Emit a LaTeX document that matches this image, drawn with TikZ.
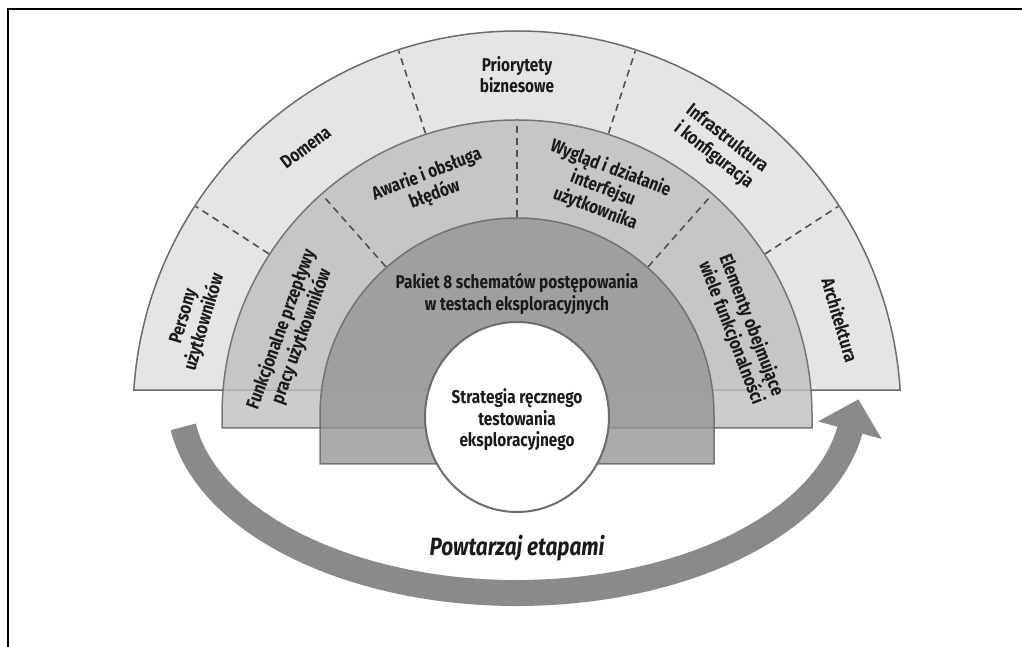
\documentclass[tikz,border=0pt]{standalone}
\usepackage{fontspec}
\setmainfont{Fira Sans}[FakeStretch=0.83]
\usetikzlibrary{calc}
\definecolor{bandA}{HTML}{E5E5E5}
\definecolor{bandB}{HTML}{BFBFBF}
\definecolor{bandC}{HTML}{969696}
\definecolor{archline}{HTML}{6C6C6C}
\definecolor{sepcol}{HTML}{505050}
\definecolor{arrowcol}{HTML}{8A8A8A}
\definecolor{txt}{HTML}{1A1A1A}
\newcommand{\labfont}{\bfseries\fontsize{18.5}{21.5}\selectfont}
\tikzset{
  archA/.style={draw=archline, line width=1.5pt, fill=bandA},
  archB/.style={draw=archline, line width=1.5pt, fill=bandB, fill opacity=0.8, draw opacity=0.9},
  archC/.style={draw=archline, line width=1.5pt, fill=bandC, fill opacity=0.8, draw opacity=0.9},
  sepline/.style={draw=sepcol, dash pattern=on 7pt off 5pt, line width=1.6pt},
  lab/.style={font=\labfont, align=center, text=txt, inner sep=0pt},
  frameline/.style={draw=black, line width=2.5pt},
}
\begin{document}
\begin{tikzpicture}[x=1pt,y=1pt]
\useasboundingbox (0,0) rectangle (1022,647);
% frame
\coordinate (fTR) at (1022,638);
\coordinate (fTL) at (8,638);
\coordinate (fBL) at (8,0);
\draw[frameline] (fTR) -- (fTL) -- (fBL);
\coordinate (C) at (517,232);
% outer band
\path[archA] ($(C)+(3.73:384)$) arc[start angle=3.73, end angle=176.27, radius=384] -- cycle;
% middle band
\path[archB] (812,219) -- (812,232) arc[start angle=0, end angle=180, radius=295] -- (222,219) -- cycle;
% inner band
\path[archC] (714,183) -- (714,232) arc[start angle=0, end angle=180, radius=197] -- (320,183) -- cycle;
% separators outer
\foreach \a in {147,108,72,33}{
  \draw[sepline] ($(C)+(\a:296)$) -- ($(C)+(\a:383)$);
}
% separators middle
\foreach \a in {131.5,90,48.5}{
  \draw[sepline] ($(C)+(\a:198)$) -- ($(C)+(\a:294)$);
}
% core ellipse
\draw[draw=archline, line width=2pt, fill=white] (517,230) ellipse [x radius=92, y radius=95];
\node[lab] (core) at (517,227) {Strategia ręcznego\\testowania\\eksploracyjnego};
% labels outer
\node[lab, rotate=73.5] (persony) at ($(C)+(163.5:336)$) {Persony\\użytkowników};
\node[lab, rotate=37] (domena) at ($(C)+(128.3:341)$) {Domena};
\node[lab] (prio) at (517,572.5) {Priorytety\\biznesowe};
\node[lab, rotate=-38] (infra) at ($(C)+(52.8:336)$) {Infrastruktura\\i konfiguracja};
\node[lab, rotate=-73.6] (arch) at ($(C)+(16.4:337)$) {Architektura};
% labels middle
\node[lab, rotate=70] (funk) at ($(C)+(160:240)$) {Funkcjonalne przepływy\\pracy użytkowników};
\node[lab, rotate=21] (awarie) at ($(C)+(110.5:246)$) {Awarie i obsługa\\błędów};
\node[lab, rotate=-21] (wyglad) at ($(C)+(69.2:242)$) {Wygląd i działanie\\interfejsu\\użytkownika};
\node[lab, rotate=-69] (elem) at ($(C)+(21:240)$) {Elementy obejmujące\\wiele funkcjonalności};
% label inner
\node[lab] (pakiet) at (517,353) {Pakiet 8 schematów postępowania\\w testach eksploracyjnych};
% cycle arrow
\coordinate (A) at (517,247);
\draw[arrowcol, line width=26pt] ($(A)+(188:337 and 193)$) arc[start angle=188, end angle=352.5, x radius=337, y radius=193];
\coordinate (hL) at (818.1,225.6);
\coordinate (hR) at (881.7,208.0);
\coordinate (hT) at (858.4,247.6);
\fill[arrowcol] (hL) -- (hT) -- (hR) -- cycle;
\node[font=\bfseries\itshape\fontsize{25}{29}\selectfont, text=txt, inner sep=0pt] (rep) at (517,99) {Powtarzaj etapami};
\end{tikzpicture}
\end{document}
